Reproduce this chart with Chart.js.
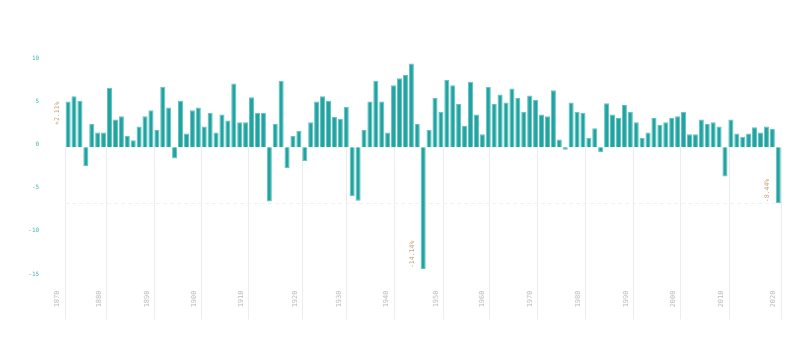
<!DOCTYPE html>
<html>
<head>
<meta charset="utf-8">
<script src="https://cdn.jsdelivr.net/npm/chart.js@4.4.1/dist/chart.umd.min.js"></script>
<style>
  html, body { margin: 0; padding: 0; background: #ffffff; }
  #wrap { width: 800px; height: 343px; position: relative; }
</style>
</head>
<body>
<div id="wrap"><canvas id="c"></canvas></div>
<script>
// ---- data ----
const values = [
  5.3, 5.9, 5.4, -2.2, 2.7, 1.7, 1.7, 6.9, 3.2, 3.6,
  1.3, 0.8, 2.4, 3.6, 4.3, 2.0, 7.0, 4.6, -1.3, 5.4,
  1.6, 4.3, 4.6, 2.4, 4.0, 1.7, 3.8, 3.1, 7.4, 2.9,
  2.9, 5.8, 4.0, 4.0, -6.3, 2.7, 7.7, -2.4, 1.3, 1.9,
  -1.6, 2.9, 5.3, 5.9, 5.4, 3.5, 3.3, 4.7, -5.7, -6.2,
  2.0, 5.3, 7.7, 5.3, 1.7, 7.2, 8.0, 8.4, 9.7, 2.7,
  -14.14, 2.0, 5.7, 4.1, 7.8, 7.2, 5.0, 2.5, 7.6, 3.8,
  1.5, 7.0, 5.0, 6.1, 5.2, 6.8, 5.7, 4.1, 6.0, 5.5,
  3.8, 3.6, 6.6, 0.9, -0.3, 5.2, 4.1, 4.0, 1.1, 2.2,
  -0.6, 5.1, 3.8, 3.4, 4.9, 4.1, 2.9, 1.1, 1.7, 3.4,
  2.6, 2.9, 3.4, 3.6, 4.1, 1.5, 1.5, 3.2, 2.7, 2.9,
  2.4, -3.4, 3.2, 1.6, 1.2, 1.6, 2.3, 1.7, 2.4, 2.1,
  -6.5
];
const decadeLabels = ['1870','1880','1890','1900','1910','1920','1930','1940',
                      '1950','1960','1970','1980','1990','2000','2010','2020'];
// position of each decade along the sequence of bars (bar index units)
const decadePositions = [-0.6, 6.4, 14.6, 22.5, 30.45, 39.5, 47.0, 55.0,
                         63.4, 71.2, 79.3, 87.4, 95.5, 103.4, 111.6, 120.4];
const yTicks = [10, 5, 0, -5, -10, -15];
const annotationTexts = ['+2.11%', '-14.14%', '-8.44%'];

// categories: one per bar
const categories = values.map((v, i) => String(i));
const minIndex = values.indexOf(Math.min(...values));
const annotations = [
  { index: 0, text: annotationTexts[0] },
  { index: minIndex, text: annotationTexts[1] },
  { index: values.length - 1, text: annotationTexts[2] }
];

const MONO = "'DejaVu Sans Mono', monospace";

const decorPlugin = {
  id: 'decor',
  beforeDatasetsDraw(chart) {
    const ctx = chart.ctx;
    const x = chart.scales.x, y = chart.scales.y, ca = chart.chartArea;
    const y0 = y.getPixelForValue(0);
    ctx.save();
    // vertical decade lines from zero downwards
    ctx.strokeStyle = '#ececec';
    ctx.lineWidth = 1;
    decadePositions.forEach(p => {
      const px = Math.round(x.getPixelForValue(p)) + 0.5;
      ctx.beginPath();
      ctx.moveTo(px, y0);
      ctx.lineTo(px, ca.bottom + 43);
      ctx.stroke();
    });
    // dashed reference line at the latest value
    const yl = Math.round(y.getPixelForValue(values[values.length - 1])) + 0.5;
    ctx.strokeStyle = '#f1f1f1';
    ctx.setLineDash([4, 3]);
    ctx.beginPath();
    ctx.moveTo(ca.left, yl);
    ctx.lineTo(ca.right, yl);
    ctx.stroke();
    ctx.restore();
  },
  afterDatasetsDraw(chart) {
    const ctx = chart.ctx;
    const meta = chart.getDatasetMeta(0);
    ctx.save();
    ctx.fillStyle = '#c9a87e';
    ctx.font = '6.5px ' + MONO;
    ctx.textBaseline = 'middle';
    annotations.forEach(a => {
      const el = meta.data[a.index];
      const v = values[a.index];
      ctx.save();
      ctx.translate(el.x - 10.5, el.y + (v >= 0 ? 0 : -1));
      ctx.rotate(-Math.PI / 2);
      ctx.textAlign = v >= 0 ? 'right' : 'left';
      ctx.fillText(a.text, 0, 0);
      ctx.restore();
    });
    ctx.restore();
  }
};

new Chart(document.getElementById('c'), {
  type: 'bar',
  data: {
    labels: categories,
    datasets: [{
      data: values,
      backgroundColor: '#21a4a1',
      borderColor: '#62c3c0',
      borderWidth: 1,
      borderSkipped: 'start',
      barPercentage: 0.86,
      categoryPercentage: 1.0
    }]
  },
  options: {
    responsive: true,
    maintainAspectRatio: false,
    animation: false,
    layout: { padding: { top: 61, right: 18.8, left: 0, bottom: 0 } },
    plugins: { legend: { display: false }, tooltip: { enabled: false } },
    scales: {
      x: {
        type: 'category',
        offset: true,
        afterBuildTicks: s => { s.ticks = decadePositions.map(p => ({ value: p })); },
        afterFit: s => { s.height = 66.5; s.paddingLeft = 0; s.paddingRight = 0; },
        grid: { display: false, drawTicks: false },
        border: { display: false },
        ticks: {
          autoSkip: false,
          minRotation: 90,
          maxRotation: 90,
          padding: 14,
          labelOffset: -7,
          color: '#bdbdbd',
          font: { family: MONO, size: 7 },
          callback: (v, i) => decadeLabels[i]
        }
      },
      y: {
        min: -15,
        max: 10,
        afterBuildTicks: s => { s.ticks = yTicks.map(v => ({ value: v })); },
        afterFit: s => { s.width = 65.14; s.paddingTop = 0; s.paddingBottom = 0; },
        grid: { display: false, drawTicks: false },
        border: { display: false },
        ticks: {
          padding: 26,
          labelOffset: -2.5,
          color: '#45b6b3',
          font: { family: MONO, size: 6 }
        }
      }
    }
  },
  plugins: [decorPlugin]
});
</script>
</body>
</html>
